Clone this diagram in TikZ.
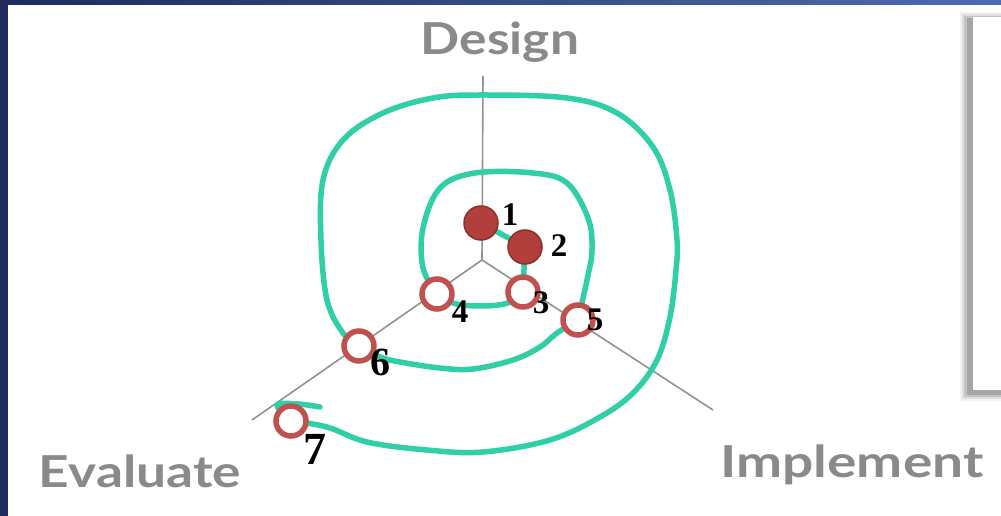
\documentclass[tikz,border=0pt]{standalone}
\usepackage{fontspec}
\usepackage{graphicx}
\setmainfont{Liberation Serif}
\newfontfamily\labelfont{Lato}
\usetikzlibrary{backgrounds}
\definecolor{tealc}{HTML}{30CFA8}
\definecolor{dotred}{HTML}{B23F3B}
\definecolor{dotedge}{HTML}{8E2E2B}
\definecolor{ringred}{HTML}{BF524F}
\definecolor{labelgray}{HTML}{8A8A8A}
\definecolor{axisgray}{HTML}{929292}
\definecolor{navyA}{HTML}{1E2B5C}
\definecolor{navyB}{HTML}{4D6DB0}
\tikzset{
  axisline/.style={draw=axisgray, line width=1.6pt},
  spiral/.style={draw=tealc, line width=5.5pt, line cap=round, line join=round},
  solidpt/.style={circle, minimum size=34pt, inner sep=0pt, fill=dotred, draw=dotedge, line width=1.5pt},
  ringpt/.style={circle, minimum size=30pt, inner sep=0pt, fill=white, draw=ringred, line width=5.5pt},
  num/.style={font=\bfseries\fontsize{33}{33}\selectfont, text=black, inner sep=0pt},
  phase/.style={font=\labelfont\bfseries\fontsize{44}{44}\selectfont, text=labelgray, inner sep=0pt, anchor=base},
}
\begin{document}
\begin{tikzpicture}[x=1pt,y=-1pt]
\useasboundingbox (0,0) rectangle (1001,516);
% points
\node[solidpt] (c1) at (481,223) {};
\node[solidpt] (c2) at (525,247) {};
\node[ringpt] (c3) at (523,292) {};
\node[ringpt] (c4) at (437,294) {};
\node[ringpt] (c5) at (578,320) {};
\node[ringpt] (c6) at (359,346) {};
\node[ringpt] (c7) at (291,421) {};
% numbers
\node[num] (n1) at (510,215) {1};
\node[num] (n2) at (559,246) {2};
\node[num] (n3) at (541,303) {3};
\node[num] (n4) at (460,312) {4};
\node[num] (n5) at (595,320) {5};
\node[num, font=\bfseries\fontsize{40}{40}\selectfont] (n6) at (380,362) {6};
\node[num, font=\bfseries\fontsize{46}{46}\selectfont] (n7) at (315,449) {7};
% phase labels
\node[phase] (design) at (500,55) {\scalebox{1.17}[1]{Design}};
\node[phase] (evaluate) at (140,487) {\scalebox{1.21}[1]{Evaluate}};
\node[phase] (implement) at (852,477) {\scalebox{1.25}[1]{Implement}};
\begin{scope}[on background layer]
  % frame
  \fill[white] (0,0) rectangle (1001,516);
  \fill[navyA] (0,0) rectangle (8,516);
  \shade[left color=navyA, right color=navyB] (0,0) rectangle (1001,5);
  % right box with soft shadow
  \fill[black, opacity=0.05] (960,12) rectangle (1001,401);
  \fill[black, opacity=0.08] (962,14) rectangle (1001,399);
  \fill[black, opacity=0.12] (964,16) rectangle (1001,397);
  \fill[black, opacity=0.15] (967,18) rectangle (1001,395);
  \fill[white] (973,17) rectangle (1001,390);
  % axes
  \coordinate (ctr) at (482,260);
  \coordinate (axtop) at (483,76);
  \coordinate (axleft) at (252,420);
  \coordinate (axright) at (713,410);
  \draw[axisline] (ctr) -- (axtop);
  \draw[axisline] (ctr) -- (axleft);
  \draw[axisline] (ctr) -- (axright);
  % spiral
  \draw[spiral] (c1.center) -- (c2.center) -- (c3.center);
  \draw[spiral] (c3.center) .. controls (515,304) and (500,306) .. (480,306)
                .. controls (460,306) and (445,303) .. (c4.center);
  \draw[spiral] plot[smooth, tension=0.6] coordinates {(c4.center) (423,268) (423,228) (440,188) (475,173) (533,173) (567,183) (588,218) (592,250) (587,280) (c5.center)};
  \draw[spiral] plot[smooth, tension=0.6] coordinates {(c5.center) (557,333) (540,347) (513,360) (473,369) (440,368) (400,362) (380,357) (c6.center)};
  \draw[spiral] plot[smooth, tension=0.6] coordinates {(c6.center) (343,333) (327,300) (321,240) (323,180) (343,140) (383,113) (433,98) (483,95) (567,98) (617,113) (653,147) (670,190) (677,240) (676,270) (670,317) (657,360) (633,393) (600,417) (550,440) (483,452) (427,450) (367,442) (327,427) (c7.center)};
  \coordinate (hookend) at (320,407);
  \draw[spiral] plot[smooth, tension=0.6] coordinates {(c7.center) (277,405) (298,404) (hookend)};
\end{scope}
\end{tikzpicture}
\end{document}
